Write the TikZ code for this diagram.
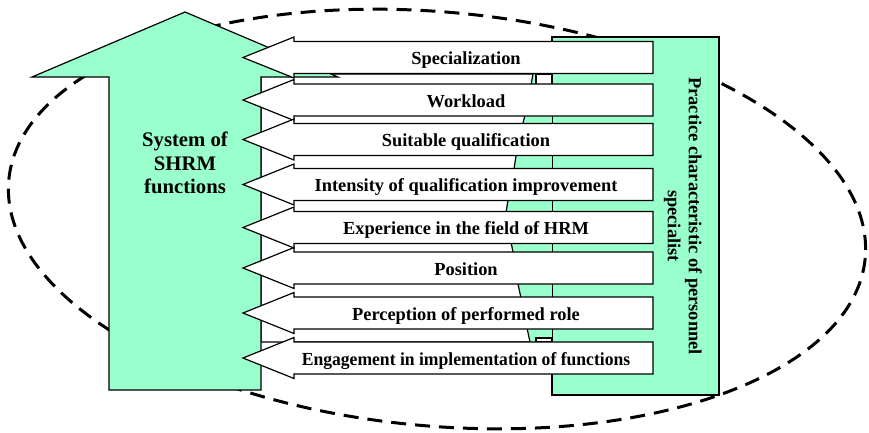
\documentclass[tikz,border=0pt]{standalone}
\usepackage{fontspec}
\setmainfont{Liberation Serif}
\definecolor{mint}{HTML}{99FFCC}
\begin{document}
\begin{tikzpicture}[x=1pt,y=-1pt,
  shapeline/.style={draw=black,line width=1.2pt,line join=miter},
  greenshape/.style={shapeline,fill=mint},
  whiteshape/.style={shapeline,fill=white},
  lbl/.style={font=\bfseries\fontsize{18.4}{22}\selectfont,inner sep=0pt,anchor=base},
  biglbl/.style={font=\bfseries\fontsize{20.7}{23.5}\selectfont,align=center,inner sep=0pt},
  sidelbl/.style={font=\bfseries\fontsize{18.4}{21}\selectfont,align=center,inner sep=0pt,rotate=-90},
  oval/.style={draw=black,line width=3pt,dash pattern=on 15pt off 9pt}]
\useasboundingbox (0,0) rectangle (869,432);
% dashed ellipse
\draw[oval,rotate around={-5.2:(437,219)}] (437,219) ellipse [x radius=430, y radius=207];
% right green panel
\draw[greenshape] (552,37) rectangle (719,395);
\fill[mint] (498,74) rectangle (552,374);
% white backing behind arrows
\draw[whiteshape] (261,74) -- (533,74) -- (531,85) -- (525,115) -- (523,123) -- (516,156) -- (514,169)
  -- (508,200) -- (506,213) -- (511,242) -- (513,252) -- (518,284) -- (521,298) -- (527,328)
  -- (530,342) -- (261,342) -- cycle;
\draw[whiteshape] (536,74) rectangle (552,85);
\draw[whiteshape] (536,338) rectangle (552,342);
% big up arrow
\draw[greenshape] (185,12) -- (338,77) -- (261,77) -- (261,390) -- (109,390) -- (109,77) -- (32,77) -- cycle;
\node[biglbl] (sys) at (185,163) {System of\\SHRM\\functions};
% left arrows
\foreach \c/\t/\s [count=\i] in {57.5/Specialization/1, 100/Workload/1, 139.5/Suitable qualification/1,
  184.5/Intensity of qualification improvement/1, 227.5/Experience in the field of HRM/1,
  268/Position/1, 313/Perception of performed role/1, 358/Engagement in implementation of functions/0.956} {
  \draw[whiteshape] (653,\c-16) -- (294,\c-16) -- (294,\c-20.5) -- (243,\c) -- (294,\c+20.5)
    -- (294,\c+16) -- (653,\c+16) -- cycle;
  \node[lbl,xscale=\s] (f\i) at (466,\c+7) {\t};
}
\node[sidelbl] (prac) at (683,216) {Practice characteristic of personnel\\\hspace*{20pt}specialist};
\end{tikzpicture}
\end{document}
